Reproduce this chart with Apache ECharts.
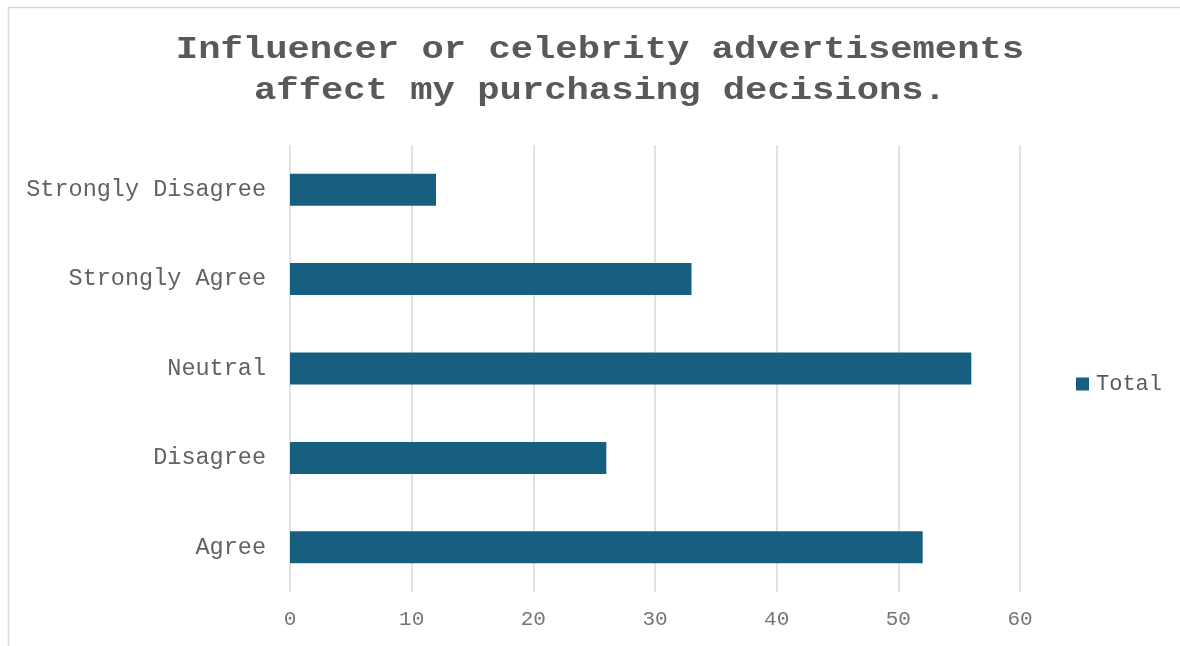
<!DOCTYPE html>
<html>
<head>
<meta charset="utf-8">
<script src="https://cdn.jsdelivr.net/npm/echarts@6/dist/echarts.min.js"></script>
<style>
  html, body { margin: 0; padding: 0; background: #fff; }
  #chart { width: 1180px; height: 646px; }
</style>
</head>
<body>
<div id="chart"></div>
<script>
// Survey responses, listed bottom to top as drawn on the category axis
const categories = ['Agree', 'Disagree', 'Neutral', 'Strongly Agree', 'Strongly Disagree'];
const totals = [52, 26, 56, 33, 12];
const seriesName = 'Total';
const titleText = 'Influencer or celebrity advertisements\naffect my purchasing decisions.';

const MONO = '"Liberation Mono", "Courier New", monospace';
const chart = echarts.init(document.getElementById('chart'), null, { renderer: 'canvas' });

chart.setOption({
  animation: false,
  backgroundColor: '#ffffff',
  graphic: [
    {
      // chart frame
      type: 'rect',
      shape: { x: 8.5, y: 7.5, width: 1200, height: 700 },
      style: { fill: 'none', stroke: '#d9d9d9', lineWidth: 1.5 },
      silent: true
    },
    {
      // two-line heading, widened to a Courier-like set width
      type: 'text',
      x: 600,
      y: 30,
      scaleX: 1.2,
      style: {
        text: titleText,
        textAlign: 'center',
        textVerticalAlign: 'top',
        fontFamily: MONO,
        fontWeight: 'bold',
        fontSize: 31,
        lineHeight: 41,
        fill: '#595959'
      },
      silent: true
    }
  ],
  legend: {
    data: [seriesName],
    left: 1076,
    top: 373,
    padding: 0,
    icon: 'rect',
    itemWidth: 13,
    itemHeight: 13,
    itemGap: 7,
    textStyle: { fontFamily: MONO, fontSize: 22, color: '#595959', padding: [0, 0, 0, 2] }
  },
  grid: { left: 290, right: 160, top: 145, bottom: 54, containLabel: false },
  xAxis: {
    type: 'value',
    min: 0,
    max: 60,
    interval: 10,
    axisLine: { show: false },
    axisTick: { show: false },
    splitLine: { lineStyle: { color: '#d9d9d9', width: 1.5 } },
    axisLabel: { fontFamily: MONO, fontSize: 21, color: '#767676', margin: 17 }
  },
  yAxis: {
    type: 'category',
    data: categories,
    axisLine: { show: false },
    axisTick: { show: false },
    axisLabel: { fontFamily: MONO, fontSize: 23.5, color: '#626262', margin: 24 }
  },
  series: [{
    name: seriesName,
    type: 'bar',
    data: totals,
    barWidth: 32,
    itemStyle: { color: '#175f80' }
  }]
});
</script>
</body>
</html>
